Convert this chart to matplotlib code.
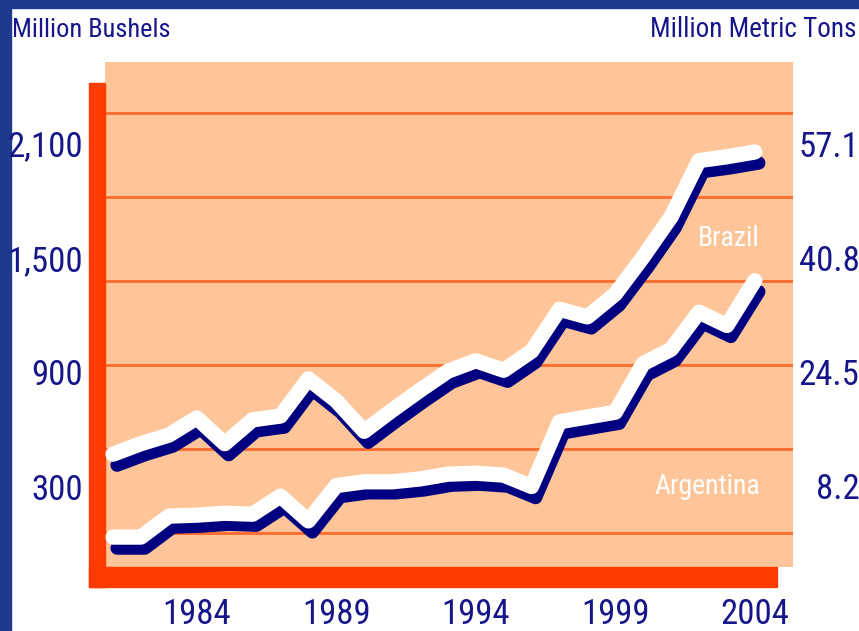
import matplotlib
matplotlib.use("Agg")
import matplotlib.pyplot as plt
from matplotlib.patches import Rectangle
from matplotlib.ticker import MultipleLocator
from matplotlib.transforms import offset_copy

# soybean production, million bushels
years = list(range(1981, 2005))
brazil = [470, 525, 570, 660, 525, 650, 670, 865, 750, 590, 700, 805,
          905, 960, 910, 1010, 1230, 1190, 1310, 1505, 1715, 2010, 2030, 2055]
argentina = [35, 35, 145, 150, 160, 155, 250, 120, 305, 325, 325, 340,
             365, 370, 360, 300, 640, 665, 690, 945, 1020, 1215, 1145, 1380]

left_ticks = [300, 900, 1500, 2100]
left_labels = ["300", "900", "1,500", "2,100"]
right_ticks = [8.2, 24.5, 40.8, 57.1]
right_labels = ["8.2", "24.5", "40.8", "57.1"]
year_ticks = [1984, 1989, 1994, 1999, 2004]
grid_years = [1984, 1989, 1994, 1999]

BU_PER_MT = 36.744  # million bushels per million metric tons of soybeans

# colours
navy = "#000080"
text_blue = "#16168A"
peach = "#FFC497"
red = "#FF3B00"
grid_red = "#FF6A2E"
slide_blue = "#1D3B8E"

# narrowest face we can get
plt.rcParams["font.family"] = ["Liberation Sans Narrow", "Roboto Condensed",
                               "DejaVu Sans Condensed", "Roboto", "DejaVu Sans"]
plt.rcParams["font.stretch"] = "condensed"

fig = plt.figure(figsize=(8.59, 6.31), dpi=100, facecolor="white")
ax = fig.add_axes([0.1222, 0.1014, 0.8010, 0.8003])
ax.set_facecolor(peach)
ax.set_xlim(1980.71, 2005.37)
ax.set_ylim(-122, 2527)
for s in ax.spines.values():
    s.set_visible(False)

# grid lines (minor ticks so they sit apart from the labels)
ax.set_xticks(grid_years, minor=True)
ax.yaxis.set_minor_locator(MultipleLocator(440, offset=57))
ax.grid(which="minor", axis="x", color=grid_red, lw=1.3)
ax.grid(which="minor", axis="y", color=grid_red, lw=2.0)
ax.grid(which="major", visible=False)
ax.set_axisbelow(True)

ax.set_xticks(year_ticks, labels=[str(y) for y in year_ticks])
ax.set_yticks(left_ticks, labels=left_labels)
ax.tick_params(which="both", length=0)
ax.tick_params(axis="x", pad=22, labelsize=25, labelcolor=text_blue)
ax.tick_params(axis="y", pad=16, labelsize=25, labelcolor=text_blue)

# thick red axis bars
ax.add_patch(Rectangle((-0.0233, -0.0396), 0.0233, 0.998, transform=ax.transAxes,
                       color=red, clip_on=False, zorder=3))
ax.add_patch(Rectangle((-0.0233, -0.0396), 1.0, 0.0396, transform=ax.transAxes,
                       color=red, clip_on=False, zorder=3))

# white lines with a navy shadow down and to the right
shadow = offset_copy(ax.transData, fig=fig, x=4, y=-11, units="dots")
for series in (brazil, argentina):
    ax.plot(years, series, color=navy, lw=9.6, solid_capstyle="round",
            solid_joinstyle="round", transform=shadow, zorder=4)
    ax.plot(years, series, color="white", lw=11, solid_capstyle="round",
            solid_joinstyle="round", zorder=5)

ax.text(2003.06, 1562, "Brazil", color="white", fontsize=20,
        ha="center", va="baseline", zorder=6)
ax.text(2002.29, 261, "Argentina", color="white", fontsize=20,
        ha="center", va="baseline", zorder=6)

# metric tons on the right
sec = ax.secondary_yaxis("right", functions=(lambda v: v / BU_PER_MT,
                                             lambda m: m * BU_PER_MT))
sec.set_yticks(right_ticks, labels=right_labels)
sec.tick_params(length=0, pad=48, labelsize=25, labelcolor=text_blue)
for lab in sec.get_yticklabels():
    lab.set_ha("right")
for s in sec.spines.values():
    s.set_visible(False)

fig.text(12 / 859, 1 - 37 / 631, "Million Bushels", fontsize=19,
         color=text_blue, ha="left", va="baseline")
fig.text(856 / 859, 1 - 37 / 631, "Million Metric Tons", fontsize=19.5,
         color=text_blue, ha="right", va="baseline")

# slide background strips
fig.add_artist(Rectangle((0, 0), 11 / 859, 1, transform=fig.transFigure,
                         color=slide_blue, zorder=0))
fig.add_artist(Rectangle((0, 1 - 8 / 631), 1, 8 / 631, transform=fig.transFigure,
                         color=slide_blue, zorder=0))

fig.savefig("out.png", dpi=100)
